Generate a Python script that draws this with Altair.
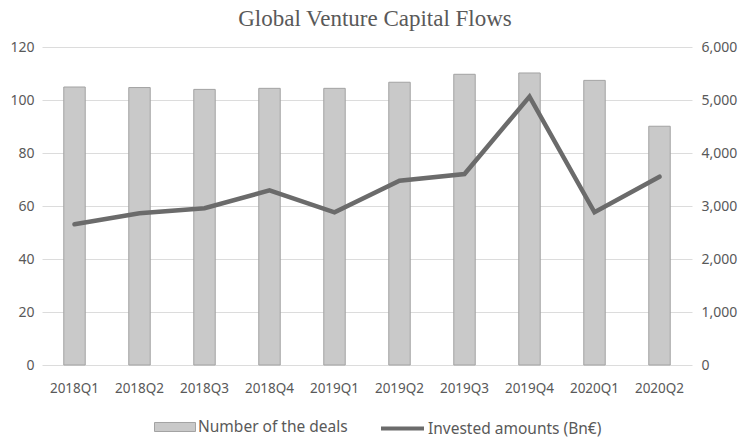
import altair as alt
import pandas as pd

quarters = ["2018Q1", "2018Q2", "2018Q3", "2018Q4", "2019Q1",
            "2019Q2", "2019Q3", "2019Q4", "2020Q1", "2020Q2"]
deals = [104.9, 104.7, 104.0, 104.4, 104.4, 106.7, 109.7, 110.2, 107.4, 90.1]
invested = [2654, 2862, 2957, 3296, 2881, 3477, 3604, 5063, 2881, 3553]

bar_name = "Number of the deals"
line_name = "Invested amounts (Bn€)"

df = pd.DataFrame({
    "quarter": quarters,
    "deals": deals,
    "invested": invested,
    "bar_series": [bar_name] * len(quarters),
    "line_series": [line_name] * len(quarters),
})

FONT = "Noto Sans"
TXT = "#595959"

x = alt.X("quarter:N", sort=quarters, title=None,
          scale=alt.Scale(paddingInner=0.67, paddingOuter=0.335),
          axis=alt.Axis(labelAngle=0, ticks=False, domain=False, labelPadding=16,
                        labelFont=FONT, labelFontSize=13.5, labelColor=TXT))

bars = alt.Chart(df).mark_bar(stroke="#a3a3a3", strokeWidth=1).encode(
    x=x,
    y=alt.Y("deals:Q", title=None,
            scale=alt.Scale(domain=[0, 120], nice=False),
            axis=alt.Axis(values=[0, 20, 40, 60, 80, 100, 120], grid=True,
                          gridColor="#dcdcdc", gridWidth=1, domain=False, ticks=False,
                          labelPadding=8, labelFont=FONT, labelFontSize=14,
                          labelColor=TXT)),
    fill=alt.Fill("bar_series:N",
                  scale=alt.Scale(domain=[bar_name], range=["#c9c9c9"]),
                  legend=alt.Legend(title=None, orient="none", legendX=112, legendY=359,
                                    symbolType="M-1,-0.22H1V0.22H-1Z", symbolSize=1681,
                                    symbolStrokeColor="#a3a3a3", symbolStrokeWidth=1,
                                    symbolFillColor="#c9c9c9", labelLimit=300,
                                    labelFont=FONT, labelFontSize=15.5, labelColor=TXT,
                                    labelOffset=2)),
)

line = alt.Chart(df).mark_line(strokeWidth=4.5, strokeCap="round").encode(
    x=x,
    y=alt.Y("invested:Q", title=None,
            scale=alt.Scale(domain=[0, 6000], nice=False),
            axis=alt.Axis(orient="right", values=[0, 1000, 2000, 3000, 4000, 5000, 6000],
                          format=",.0f", grid=False, domain=False, ticks=False,
                          labelPadding=9, labelFont=FONT, labelFontSize=14,
                          labelColor=TXT)),
    stroke=alt.Stroke("line_series:N",
                      scale=alt.Scale(domain=[line_name], range=["#6b6b6b"]),
                      legend=alt.Legend(title=None, orient="none", legendX=337, legendY=358,
                                        symbolType="stroke", symbolSize=1849,
                                        symbolStrokeWidth=4, labelLimit=300,
                                        labelFont=FONT, labelFontSize=15.5, labelColor=TXT,
                                        labelOffset=2)),
)

chart = alt.layer(bars, line).resolve_scale(y="independent", fill="independent",
                                            stroke="independent").properties(
    width=650,
    height=318,
    autosize=alt.AutoSizeParams(type="none"),
    padding={"left": 34, "top": 39, "right": 50, "bottom": 73},
    title=alt.Title("Global Venture Capital Flows", font="Liberation Serif",
                    fontSize=23, fontWeight="normal", color=TXT, anchor="middle",
                    offset=9, dx=8),
).configure_view(stroke=None)

chart.save("out.html", embed_options={"renderer": "svg", "actions": False})
